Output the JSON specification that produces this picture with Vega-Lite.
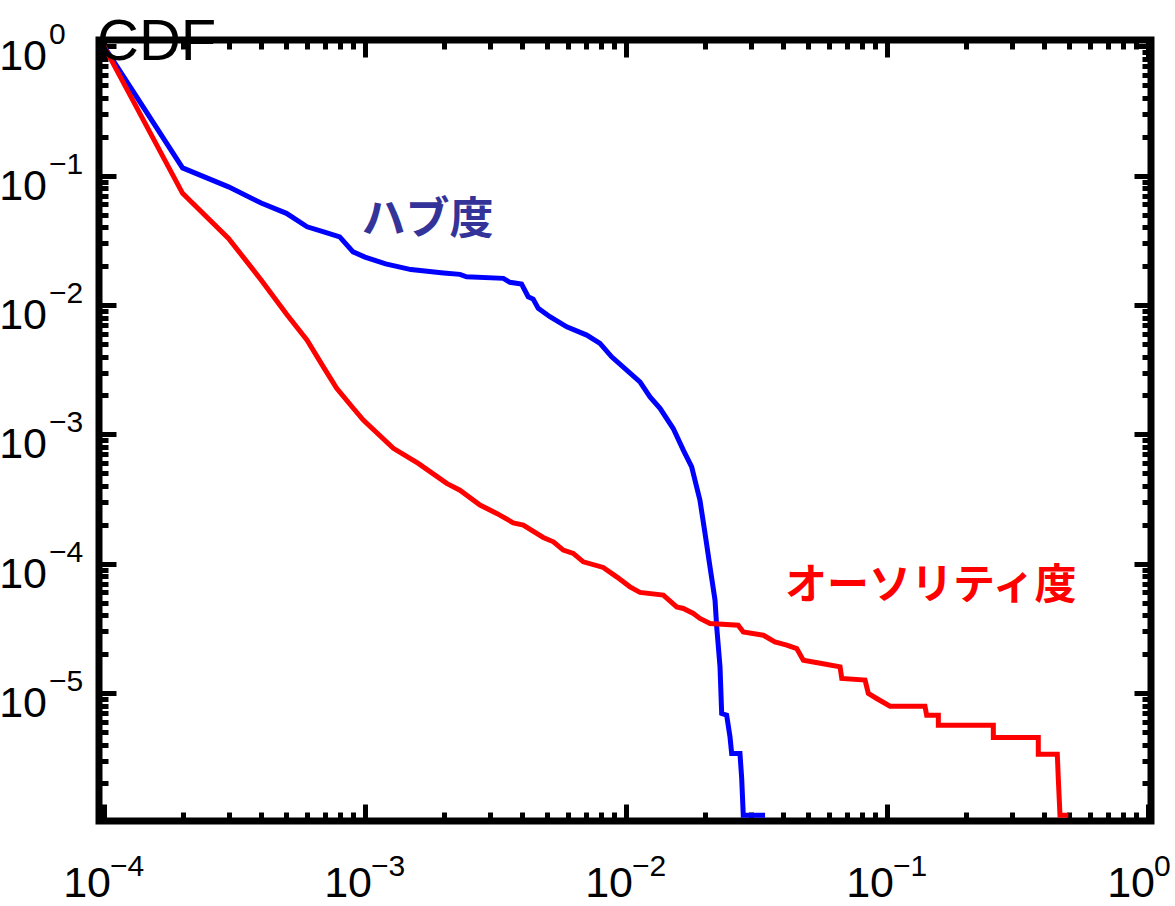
{
  "$schema": "https://vega.github.io/schema/vega-lite/v6.json",
  "width": 1052,
  "height": 781,
  "autosize": "none",
  "padding": {"left": 99, "top": 40, "right": 24, "bottom": 85},
  "background": "white",
  "config": {
    "view": {"stroke": "black", "strokeWidth": 7},
    "axis": {"domain": false, "grid": false, "labels": false, "title": null, "tickColor": "black", "tickWidth": 5}
  },
  "datasets": {
    "curves": [
      {"s": "hub", "i": 1, "x": 0.0001, "y": 1},
      {"s": "hub", "i": 2, "x": 0.0002, "y": 0.115},
      {"s": "hub", "i": 3, "x": 0.0003, "y": 0.082},
      {"s": "hub", "i": 4, "x": 0.0004, "y": 0.0615},
      {"s": "hub", "i": 5, "x": 0.0005, "y": 0.0512},
      {"s": "hub", "i": 6, "x": 0.0006, "y": 0.0403},
      {"s": "hub", "i": 7, "x": 0.0007, "y": 0.0367},
      {"s": "hub", "i": 8, "x": 0.0008, "y": 0.0337},
      {"s": "hub", "i": 9, "x": 0.0009, "y": 0.0258},
      {"s": "hub", "i": 10, "x": 0.001, "y": 0.0235},
      {"s": "hub", "i": 11, "x": 0.0012, "y": 0.0208},
      {"s": "hub", "i": 12, "x": 0.0015, "y": 0.0188},
      {"s": "hub", "i": 13, "x": 0.002, "y": 0.0177},
      {"s": "hub", "i": 14, "x": 0.00231, "y": 0.01727},
      {"s": "hub", "i": 15, "x": 0.00245, "y": 0.01655},
      {"s": "hub", "i": 16, "x": 0.00339, "y": 0.01609},
      {"s": "hub", "i": 17, "x": 0.00359, "y": 0.015},
      {"s": "hub", "i": 18, "x": 0.00398, "y": 0.01454},
      {"s": "hub", "i": 19, "x": 0.00422, "y": 0.0116},
      {"s": "hub", "i": 20, "x": 0.00441, "y": 0.01113},
      {"s": "hub", "i": 21, "x": 0.00461, "y": 0.00943},
      {"s": "hub", "i": 22, "x": 0.00511, "y": 0.00812},
      {"s": "hub", "i": 23, "x": 0.00593, "y": 0.00679},
      {"s": "hub", "i": 24, "x": 0.00707, "y": 0.00586},
      {"s": "hub", "i": 25, "x": 0.00795, "y": 0.00506},
      {"s": "hub", "i": 26, "x": 0.00881, "y": 0.00398},
      {"s": "hub", "i": 27, "x": 0.01131, "y": 0.00255},
      {"s": "hub", "i": 28, "x": 0.01236, "y": 0.00195},
      {"s": "hub", "i": 29, "x": 0.0135, "y": 0.00159},
      {"s": "hub", "i": 30, "x": 0.01517, "y": 0.00111},
      {"s": "hub", "i": 31, "x": 0.01658, "y": 0.000756},
      {"s": "hub", "i": 32, "x": 0.01785, "y": 0.000561},
      {"s": "hub", "i": 33, "x": 0.0192, "y": 0.00031},
      {"s": "hub", "i": 34, "x": 0.02008, "y": 0.0001715},
      {"s": "hub", "i": 35, "x": 0.02098, "y": 0.0000946},
      {"s": "hub", "i": 36, "x": 0.02193, "y": 0.0000523},
      {"s": "hub", "i": 37, "x": 0.02226, "y": 0.0000325},
      {"s": "hub", "i": 38, "x": 0.02292, "y": 0.00001595},
      {"s": "hub", "i": 39, "x": 0.02326, "y": 0.00000695},
      {"s": "hub", "i": 40, "x": 0.0243, "y": 0.00000675},
      {"s": "hub", "i": 41, "x": 0.02503, "y": 0.00000458},
      {"s": "hub", "i": 42, "x": 0.0254, "y": 0.00000341},
      {"s": "hub", "i": 43, "x": 0.02733, "y": 0.00000341},
      {"s": "hub", "i": 44, "x": 0.02775, "y": 0.00000219},
      {"s": "hub", "i": 45, "x": 0.02814, "y": 0.000001137},
      {"s": "hub", "i": 46, "x": 0.0341, "y": 0.000001137},
      {"s": "auth", "i": 1, "x": 0.0001, "y": 1},
      {"s": "auth", "i": 2, "x": 0.0002, "y": 0.0731},
      {"s": "auth", "i": 3, "x": 0.0003, "y": 0.0328},
      {"s": "auth", "i": 4, "x": 0.0004, "y": 0.01563},
      {"s": "auth", "i": 5, "x": 0.0005, "y": 0.00852},
      {"s": "auth", "i": 6, "x": 0.0006, "y": 0.00536},
      {"s": "auth", "i": 7, "x": 0.0007, "y": 0.00321},
      {"s": "auth", "i": 8, "x": 0.000779, "y": 0.00227},
      {"s": "auth", "i": 9, "x": 0.0009, "y": 0.0016},
      {"s": "auth", "i": 10, "x": 0.000985, "y": 0.00129},
      {"s": "auth", "i": 11, "x": 0.001284, "y": 0.00078},
      {"s": "auth", "i": 12, "x": 0.0016, "y": 0.000597},
      {"s": "auth", "i": 13, "x": 0.002056, "y": 0.000418},
      {"s": "auth", "i": 14, "x": 0.00231, "y": 0.00037},
      {"s": "auth", "i": 15, "x": 0.002758, "y": 0.000284},
      {"s": "auth", "i": 16, "x": 0.003197, "y": 0.000245},
      {"s": "auth", "i": 17, "x": 0.0037, "y": 0.000207},
      {"s": "auth", "i": 18, "x": 0.00404, "y": 0.000199},
      {"s": "auth", "i": 19, "x": 0.00482, "y": 0.0001597},
      {"s": "auth", "i": 20, "x": 0.00527, "y": 0.0001477},
      {"s": "auth", "i": 21, "x": 0.00575, "y": 0.0001274},
      {"s": "auth", "i": 22, "x": 0.00628, "y": 0.0001201},
      {"s": "auth", "i": 23, "x": 0.00686, "y": 0.0001034},
      {"s": "auth", "i": 24, "x": 0.00818, "y": 0.0000936},
      {"s": "auth", "i": 25, "x": 0.00921, "y": 0.0000792},
      {"s": "auth", "i": 26, "x": 0.01036, "y": 0.0000663},
      {"s": "auth", "i": 27, "x": 0.01131, "y": 0.00006},
      {"s": "auth", "i": 28, "x": 0.0139, "y": 0.0000572},
      {"s": "auth", "i": 29, "x": 0.01564, "y": 0.0000464},
      {"s": "auth", "i": 30, "x": 0.01658, "y": 0.0000451},
      {"s": "auth", "i": 31, "x": 0.01811, "y": 0.0000413},
      {"s": "auth", "i": 32, "x": 0.0192, "y": 0.0000378},
      {"s": "auth", "i": 33, "x": 0.02098, "y": 0.0000345},
      {"s": "auth", "i": 34, "x": 0.0269, "y": 0.0000335},
      {"s": "auth", "i": 35, "x": 0.02814, "y": 0.0000297},
      {"s": "auth", "i": 36, "x": 0.0336, "y": 0.000028},
      {"s": "auth", "i": 37, "x": 0.0372, "y": 0.0000249},
      {"s": "auth", "i": 38, "x": 0.0413, "y": 0.0000235},
      {"s": "auth", "i": 39, "x": 0.0451, "y": 0.0000221},
      {"s": "auth", "i": 40, "x": 0.0478, "y": 0.00001796},
      {"s": "auth", "i": 41, "x": 0.0562, "y": 0.00001694},
      {"s": "auth", "i": 42, "x": 0.0661, "y": 0.00001594},
      {"s": "auth", "i": 43, "x": 0.0671, "y": 0.00001297},
      {"s": "auth", "i": 44, "x": 0.0824, "y": 0.00001259},
      {"s": "auth", "i": 45, "x": 0.0848, "y": 0.00000993},
      {"s": "auth", "i": 46, "x": 0.0913, "y": 0.00000908},
      {"s": "auth", "i": 47, "x": 0.1027, "y": 0.00000792},
      {"s": "auth", "i": 48, "x": 0.1398, "y": 0.00000792},
      {"s": "auth", "i": 49, "x": 0.1419, "y": 0.00000675},
      {"s": "auth", "i": 50, "x": 0.1573, "y": 0.00000675},
      {"s": "auth", "i": 51, "x": 0.1573, "y": 0.00000564},
      {"s": "auth", "i": 52, "x": 0.2555, "y": 0.00000564},
      {"s": "auth", "i": 53, "x": 0.2555, "y": 0.00000454},
      {"s": "auth", "i": 54, "x": 0.3799, "y": 0.00000454},
      {"s": "auth", "i": 55, "x": 0.3799, "y": 0.00000337},
      {"s": "auth", "i": 56, "x": 0.4493, "y": 0.00000337},
      {"s": "auth", "i": 57, "x": 0.4532, "y": 0.000002185},
      {"s": "auth", "i": 58, "x": 0.46, "y": 0.000001137},
      {"s": "auth", "i": 59, "x": 0.4951, "y": 0.000001137}
    ],
    "xticks": [
      {"v": 0.0001, "e": "−4"},
      {"v": 0.001, "e": "−3"},
      {"v": 0.01, "e": "−2"},
      {"v": 0.1, "e": "−1"},
      {"v": 1, "e": "0"}
    ],
    "yticks": [
      {"v": 1, "e": "0"},
      {"v": 0.1, "e": "−1"},
      {"v": 0.01, "e": "−2"},
      {"v": 0.001, "e": "−3"},
      {"v": 0.0001, "e": "−4"},
      {"v": 0.00001, "e": "−5"}
    ],
    "notes": [
      {"s": "hub", "x": 0.00097, "y": 0.0354, "t": "ハブ度"},
      {"s": "auth", "x": 0.04066, "y": 0.0000532, "t": "オーソリティ度"}
    ],
    "title": [{"t": "CDF"}]
  },
  "resolve": {"axis": {"x": "independent", "y": "independent"}},
  "layer": [
    {
      "data": {"name": "curves"},
      "mark": {"type": "line", "strokeWidth": 5, "strokeJoin": "miter"},
      "encoding": {
        "x": {"field": "x", "type": "quantitative",
              "scale": {"type": "log", "domain": [0.000095687, 1.02681], "nice": false},
              "axis": {"orient": "bottom", "values": [0.0001, 0.001, 0.01, 0.1, 1], "tickSize": -17}},
        "y": {"field": "y", "type": "quantitative",
              "scale": {"type": "log", "domain": [0.0000010252, 1.1207], "nice": false},
              "axis": {"orient": "left", "values": [0.000001, 0.00001, 0.0001, 0.001, 0.01, 0.1, 1], "tickSize": -17}},
        "color": {"field": "s", "type": "nominal",
                  "scale": {"domain": ["hub", "auth"], "range": ["#0000ff", "#ff0000"]}, "legend": null},
        "order": {"field": "i", "type": "quantitative"}
      }
    },
    {
      "data": {"name": "curves"},
      "mark": {"type": "point", "opacity": 0},
      "encoding": {
        "x": {"field": "x", "type": "quantitative",
              "scale": {"type": "log", "domain": [0.000095687, 1.02681], "nice": false},
              "axis": {"orient": "bottom", "tickSize": -9, "values": [0.0002,0.0003,0.0004,0.0005,0.0006,0.0007,0.0008,0.0009,0.002,0.003,0.004,0.005,0.006,0.007,0.008,0.009,0.02,0.03,0.04,0.05,0.06,0.07,0.08,0.09,0.2,0.3,0.4,0.5,0.6,0.7,0.8,0.9]}},
        "y": {"field": "y", "type": "quantitative",
              "scale": {"type": "log", "domain": [0.0000010252, 1.1207], "nice": false},
              "axis": {"orient": "left", "tickSize": -9, "values": [0.000002,0.000003,0.000004,0.000005,0.000006,0.000007,0.000008,0.000009,0.00002,0.00003,0.00004,0.00005,0.00006,0.00007,0.00008,0.00009,0.0002,0.0003,0.0004,0.0005,0.0006,0.0007,0.0008,0.0009,0.002,0.003,0.004,0.005,0.006,0.007,0.008,0.009,0.02,0.03,0.04,0.05,0.06,0.07,0.08,0.09,0.2,0.3,0.4,0.5,0.6,0.7,0.8,0.9]}}
      }
    },
    {
      "data": {"name": "curves"},
      "mark": {"type": "point", "opacity": 0},
      "encoding": {
        "x": {"field": "x", "type": "quantitative",
              "scale": {"type": "log", "domain": [0.000095687, 1.02681], "nice": false},
              "axis": {"orient": "top", "values": [0.0001, 0.001, 0.01, 0.1, 1], "tickSize": -17}},
        "y": {"field": "y", "type": "quantitative",
              "scale": {"type": "log", "domain": [0.0000010252, 1.1207], "nice": false},
              "axis": {"orient": "right", "values": [0.000001, 0.00001, 0.0001, 0.001, 0.01, 0.1, 1], "tickSize": -17}}
      }
    },
    {
      "data": {"name": "curves"},
      "mark": {"type": "point", "opacity": 0},
      "encoding": {
        "x": {"field": "x", "type": "quantitative",
              "scale": {"type": "log", "domain": [0.000095687, 1.02681], "nice": false},
              "axis": {"orient": "top", "tickSize": -9, "values": [0.0002,0.0003,0.0004,0.0005,0.0006,0.0007,0.0008,0.0009,0.002,0.003,0.004,0.005,0.006,0.007,0.008,0.009,0.02,0.03,0.04,0.05,0.06,0.07,0.08,0.09,0.2,0.3,0.4,0.5,0.6,0.7,0.8,0.9]}},
        "y": {"field": "y", "type": "quantitative",
              "scale": {"type": "log", "domain": [0.0000010252, 1.1207], "nice": false},
              "axis": {"orient": "right", "tickSize": -9, "values": [0.000002,0.000003,0.000004,0.000005,0.000006,0.000007,0.000008,0.000009,0.00002,0.00003,0.00004,0.00005,0.00006,0.00007,0.00008,0.00009,0.0002,0.0003,0.0004,0.0005,0.0006,0.0007,0.0008,0.0009,0.002,0.003,0.004,0.005,0.006,0.007,0.008,0.009,0.02,0.03,0.04,0.05,0.06,0.07,0.08,0.09,0.2,0.3,0.4,0.5,0.6,0.7,0.8,0.9]}}
      }
    },
    {
      "data": {"name": "xticks"},
      "mark": {"type": "text", "align": "right", "baseline": "alphabetic", "dx": 7, "dy": 76, "fontSize": 43, "font": "Liberation Sans", "color": "black"},
      "encoding": {
        "x": {"field": "v", "type": "quantitative", "axis": null},
        "y": {"datum": 0.0000010252, "type": "quantitative", "axis": null},
        "text": {"value": "10"}
      }
    },
    {
      "data": {"name": "xticks"},
      "mark": {"type": "text", "align": "left", "baseline": "alphabetic", "dx": 6, "dy": 55, "fontSize": 30, "font": "Liberation Sans", "color": "black"},
      "encoding": {
        "x": {"field": "v", "type": "quantitative", "axis": null},
        "y": {"datum": 0.0000010252, "type": "quantitative", "axis": null},
        "text": {"field": "e"}
      }
    },
    {
      "data": {"name": "yticks"},
      "mark": {"type": "text", "align": "right", "baseline": "alphabetic", "dx": -52, "dy": 24, "fontSize": 43, "font": "Liberation Sans", "color": "black"},
      "encoding": {
        "x": {"datum": 0.000095687, "type": "quantitative", "axis": null},
        "y": {"field": "v", "type": "quantitative", "axis": null},
        "text": {"value": "10"}
      }
    },
    {
      "data": {"name": "yticks"},
      "mark": {"type": "text", "align": "left", "baseline": "alphabetic", "dx": -50, "dy": -2, "fontSize": 30, "font": "Liberation Sans", "color": "black"},
      "encoding": {
        "x": {"datum": 0.000095687, "type": "quantitative", "axis": null},
        "y": {"field": "v", "type": "quantitative", "axis": null},
        "text": {"field": "e"}
      }
    },
    {
      "data": {"name": "title"},
      "mark": {"type": "text", "align": "left", "baseline": "alphabetic", "dx": -2, "dy": 20, "fontSize": 58, "font": "Liberation Sans", "color": "black"},
      "encoding": {
        "x": {"datum": 0.000095687, "type": "quantitative", "axis": null},
        "y": {"datum": 1.1207, "type": "quantitative", "axis": null},
        "text": {"field": "t"}
      }
    },
    {
      "data": {"name": "notes"},
      "transform": [{"filter": "datum.s === 'hub'"}],
      "mark": {"type": "text", "align": "left", "baseline": "alphabetic", "fontSize": 44, "fontWeight": "bold", "font": "Noto Sans CJK JP", "color": "#333399"},
      "encoding": {
        "x": {"field": "x", "type": "quantitative", "axis": null},
        "y": {"field": "y", "type": "quantitative", "axis": null},
        "text": {"field": "t"}
      }
    },
    {
      "data": {"name": "notes"},
      "transform": [{"filter": "datum.s === 'auth'"}],
      "mark": {"type": "text", "align": "left", "baseline": "alphabetic", "fontSize": 42, "fontWeight": "bold", "font": "Noto Sans CJK JP", "color": "#ff0000"},
      "encoding": {
        "x": {"field": "x", "type": "quantitative", "axis": null},
        "y": {"field": "y", "type": "quantitative", "axis": null},
        "text": {"field": "t"}
      }
    }
  ]
}
